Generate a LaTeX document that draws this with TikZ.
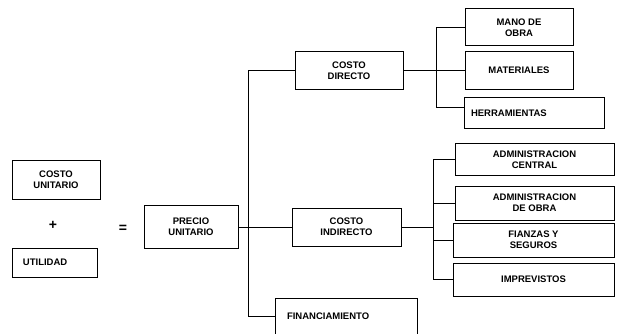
\documentclass[tikz,border=0pt]{standalone}
\usepackage{fontspec}
\setmainfont{Liberation Sans}
\usepackage{tikz}
\usetikzlibrary{positioning, calc}

\begin{document}
\begin{tikzpicture}[
    x=1pt, y=-1pt,
    line width=1pt,
    every node/.style={font=\bfseries\fontsize{9.5}{11}\selectfont, align=center},
    box/.style={rectangle, draw, line width=1pt, inner sep=0pt},
    lbox/.style={box, align=left}
]
\useasboundingbox (0,0) rectangle (618,334);

% izquierda
\node[box, minimum width=88, minimum height=39] (cu) at (56,179.5) {COSTO\\UNITARIO};
\node[font=\bfseries\fontsize{14}{14}\selectfont] (plus) at (53,225) {+};
\node[lbox, text width=63, inner xsep=11pt, minimum height=29] (ut) at (54.5,262.5) {UTILIDAD};
\node[font=\bfseries\fontsize{14}{14}\selectfont] (eq) at (123,229) {=};
\node[box, minimum width=94, minimum height=43] (pu) at (191,227) {PRECIO\\UNITARIO};

% centro
\node[box, minimum width=108, minimum height=38] (cd) at (349,70.5) {COSTO\\DIRECTO};
\node[box, minimum width=109, minimum height=38] (ci) at (346.5,227) {COSTO\\INDIRECTO};
\node[lbox, text width=118, inner xsep=12pt, minimum height=36] (fin) at (346,316) {FINANCIAMIENTO};

% costo directo
\node[box, minimum width=108, minimum height=37] (mo) at (519,27.5) {MANO DE\\OBRA};
\node[box, minimum width=108, minimum height=38] (mat) at (519,70.5) {MATERIALES};
\node[lbox, text width=126, inner xsep=7pt, minimum height=31] (her) at (534,113) {HERRAMIENTAS};

% costo indirecto
\node[box, minimum width=159, minimum height=32] (ac) at (534.5,159.5) {ADMINISTRACION\\CENTRAL};
\node[box, minimum width=159, minimum height=34] (ao) at (534.5,203) {ADMINISTRACION\\DE OBRA};
\node[box, minimum width=161, minimum height=34] (fs) at (533.5,240) {FIANZAS Y\\SEGUROS};
\node[box, minimum width=161, minimum height=33] (im) at (533.5,279.5) {IMPREVISTOS};

\coordinate (t) at (248,0);
\coordinate (d) at (436,0);
\coordinate (i) at (433,0);
\coordinate (hc) at ([yshift=5pt]her.west);

\draw (pu.east) -- (ci.west);
\draw (cd.west) -- (cd.west -| t) -- (fin.west -| t) -- (fin.west);

\draw (cd.east) -- (mat.west);
\draw (mo.west) -- (mo.west -| d) -- (hc -| d) -- (hc);

\draw (ci.east) -- (ci.east -| i);
\draw (ac.west) -- (ac.west -| i) -- (im.west -| i) -- (im.west);
\draw (ao.west) -- (ao.west -| i);
\draw (fs.west) -- (fs.west -| i);
\end{tikzpicture}
\end{document}
